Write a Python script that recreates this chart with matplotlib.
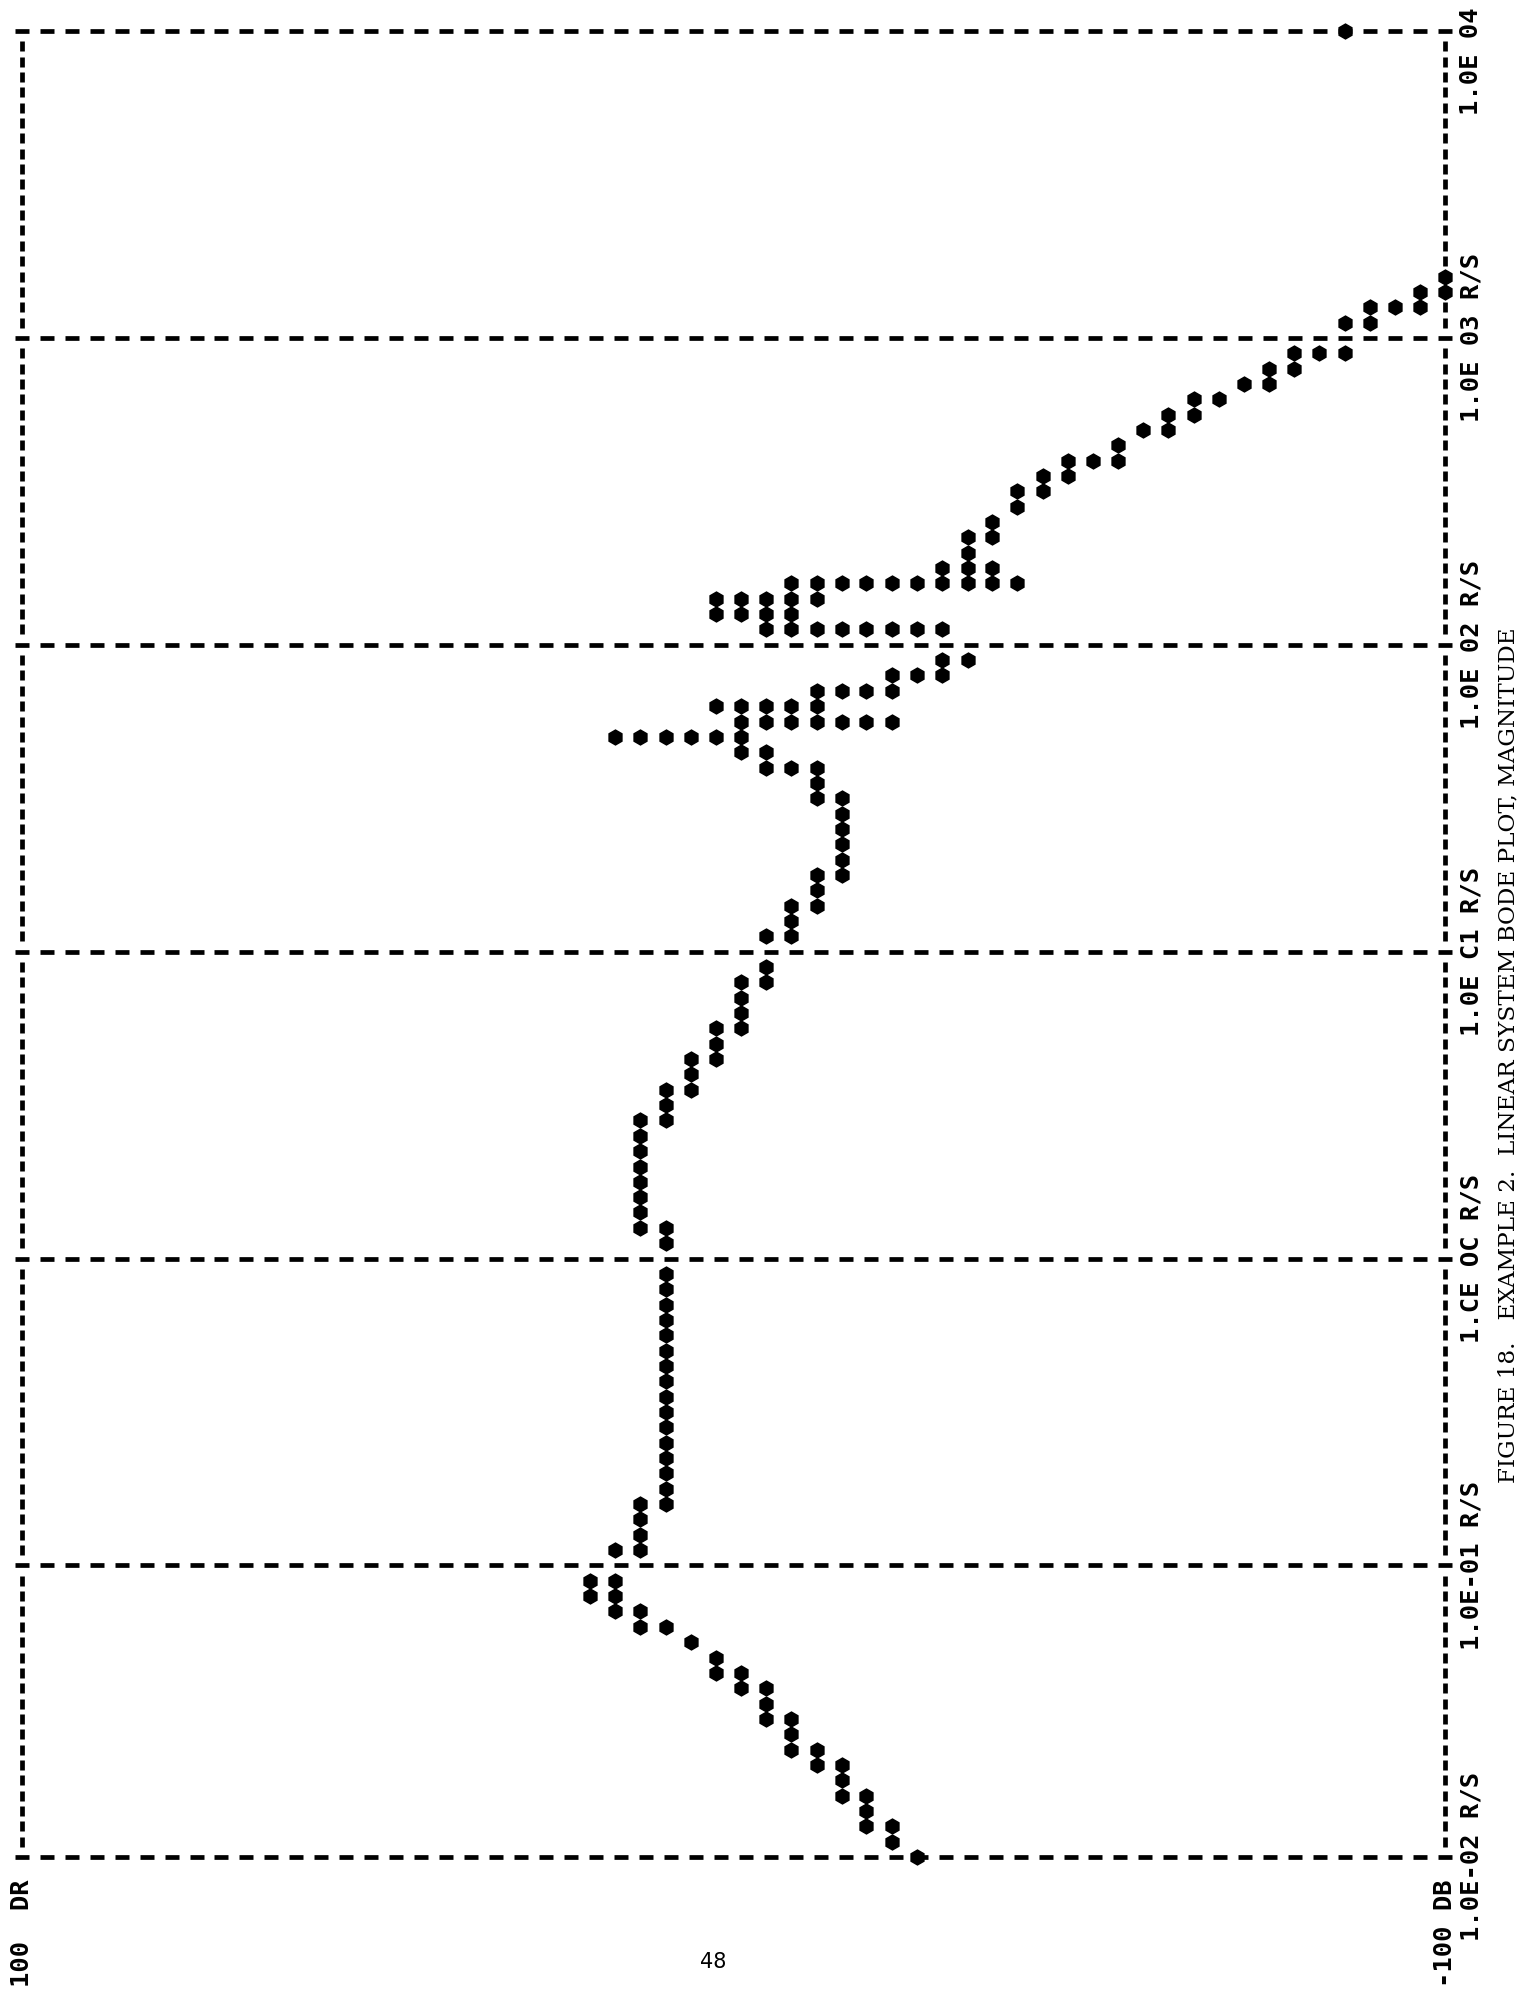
import matplotlib.pyplot as plt
import numpy as np

# decade grid lines of the printout and the labels printed under them
decades = [0.01, 0.1, 1, 10, 100, 1000, 10000]
decade_labels = ["1.0E-02 R/S", "1.0E-01 R/S", "1.CE OC R/S", "1.0E C1 R/S",
                 "1.0E 02 R/S", "1.0E 03 R/S", "1.0E 04"]

# one entry per printed frequency row (rad/s), lowest first
freq_rad_s = [
    0.01, 0.01129, 0.01274, 0.01438, 0.01624, 0.01833, 0.02069, 0.02336,
    0.02637, 0.02976, 0.0336, 0.03793, 0.04281, 0.04833, 0.05456, 0.06158,
    0.06952, 0.07848, 0.08859,
    0.1122, 0.1259, 0.1413, 0.1585, 0.1778, 0.1995, 0.2239, 0.2512, 0.2818,
    0.3162, 0.3548, 0.3981, 0.4467, 0.5012, 0.5623, 0.631, 0.7079, 0.7943,
    0.8913,
    1.122, 1.259, 1.413, 1.585, 1.778, 1.995, 2.239, 2.512, 2.818, 3.162,
    3.548, 3.981, 4.467, 5.012, 5.623, 6.31, 7.079, 7.943, 8.913,
    11.22, 12.59, 14.13, 15.85, 17.78, 19.95, 22.39, 25.12, 28.18, 31.62,
    35.48, 39.81, 44.67, 50.12, 56.23, 63.1, 70.79, 79.43, 89.13,
    112.2, 125.9, 141.3, 158.5, 177.8, 199.5, 223.9, 251.2, 281.8, 316.2,
    354.8, 398.1, 446.7, 501.2, 562.3, 631.0, 707.9, 794.3, 891.3,
    1122, 1259, 1413, 1585,
    10000,
]

# magnitude (dB) of every '*' printed on that row
mag_db = [
    [-25.8], [-22.3], [-18.7, -22.3], [-18.7], [-15.2, -18.7], [-15.2],
    [-11.7, -15.2], [-8.1, -11.7], [-8.1], [-4.6, -8.1], [-4.6], [-1.1, -4.6],
    [2.5, -1.1], [2.5], [6.0], [13.1, 9.5], [16.6, 13.1], [20.1, 16.6],
    [20.1, 16.6],
    [16.6, 13.1], [13.1], [13.1], [13.1, 9.5], [9.5], [9.5], [9.5], [9.5],
    [9.5], [9.5], [9.5], [9.5], [9.5], [9.5], [9.5], [9.5], [9.5], [9.5],
    [9.5],
    [9.5], [13.1, 9.5], [13.1], [13.1], [13.1], [13.1], [13.1], [13.1],
    [13.1, 9.5], [9.5], [9.5, 6.0], [6.0], [6.0, 2.5], [2.5], [2.5, -1.1],
    [-1.1], [-1.1], [-1.1, -4.6], [-4.6],
    [-4.6, -8.1], [-8.1], [-8.1, -11.7], [-11.7], [-11.7, -15.2], [-15.2],
    [-15.2], [-15.2], [-15.2], [-11.7, -15.2], [-11.7],
    [-4.6, -8.1, -11.7], [-1.1, -4.6],
    [16.6, 13.1, 9.5, 6.0, 2.5, -1.1],
    [-1.1, -4.6, -8.1, -11.7, -15.2, -18.7, -22.3],
    [2.5, -1.1, -4.6, -8.1, -11.7],
    [-11.7, -15.2, -18.7, -22.3], [-22.3, -25.8, -29.3], [-29.3, -32.9],
    [-4.6, -8.1, -11.7, -15.2, -18.7, -22.3, -25.8, -29.3],
    [2.5, -1.1, -4.6, -8.1],
    [2.5, -1.1, -4.6, -8.1, -11.7],
    [-8.1, -11.7, -15.2, -18.7, -22.3, -25.8, -29.3, -32.9, -36.4, -39.9],
    [-29.3, -32.9, -36.4], [-32.9], [-32.9, -36.4], [-36.4], [-39.9],
    [-39.9, -43.5], [-43.5, -47.0], [-47.0, -50.5, -54.1], [-54.1],
    [-57.6, -61.1], [-61.1, -64.7], [-64.7, -68.2], [-71.7, -75.3],
    [-75.3, -78.8], [-78.8, -82.3, -85.9],
    [-85.9, -89.4], [-89.4, -93.0, -96.5], [-96.5, -100.0], [-100.0],
    [-85.9],
]

caption = "FIGURE 18.   EXAMPLE 2.  LINEAR SYSTEM BODE PLOT, MAGNITUDE"


# the printer put 19 rows in the first decade and 20 in the others
def freqToRow(f):
    with np.errstate(divide="ignore", invalid="ignore"):
        lf = np.log10(f)
    return np.where(lf < -1, (lf + 2) * 19, 19 + (lf + 1) * 20)


def rowToFreq(r):
    r = np.asarray(r, dtype=float)
    return np.where(r < 19, 10 ** (r / 19 - 2), 10 ** ((r - 19) / 20 - 1))


fig = plt.figure(figsize=(15.17, 20.04), dpi=100)
ax = fig.add_axes([21.7 / 1517, 147 / 2004, 1423.4 / 1517, 1826 / 2004])
ax.set_xlim(100, -100)
ax.set_yscale("function", functions=(freqToRow, rowToFreq))
ax.set_ylim(0.01, 10000)
ax.axis("off")

# decade lines: one 'I' per printed line
columns = np.linspace(100, -100, 58)
for f in decades:
    ax.plot(columns, np.full(len(columns), f), ls="none", marker="_",
            ms=9.5, mew=3.4, color="k", clip_on=False)

# top/bottom lines of the page (left/right here): a '-' per row
decadeRows = np.round(freqToRow(decades)).astype(int)
rows = [r for r in range(120) if r not in decadeRows]
for x in (100, -100):
    ax.plot(np.full(len(rows), x), rowToFreq(rows), ls="none", marker="|",
            ms=7, mew=3.4, color="k", clip_on=False)

fx = [f for f, mags in zip(freq_rad_s, mag_db) for m in mags]
my = [m for mags in mag_db for m in mags]
ax.plot(my, fx, ls="none", marker="h", ms=10.5, mew=1.2, color="k",
        clip_on=False, zorder=3)

mono = dict(family="DejaVu Sans Mono", weight="bold", size=18.35,
            rotation=90, rotation_mode="anchor", ha="left", va="center",
            textcoords="offset points")
pitch = 15.345 * 0.72

ax.annotate("100  DR", xy=(100, 0.01), xytext=(0, -8.5 * pitch), **mono)
ax.annotate("-100 DB", xy=(-100, 0.01), xytext=(0, -8.5 * pitch), **mono)
for f, s in zip(decades, decade_labels):
    ax.annotate(s, xy=(-100, f), xytext=(19, -5.5 * pitch), **mono)

fig.text(1508 / 1517, (2004 - 1483) / 2004, caption, rotation=90,
         rotation_mode="anchor", ha="left", va="center",
         family="DejaVu Serif", size=16.7)
fig.text(713 / 1517, 42 / 2004, "48", ha="center", va="center",
         family="DejaVu Sans", size=15)

fig.savefig("out.png", dpi=100, facecolor="white")
